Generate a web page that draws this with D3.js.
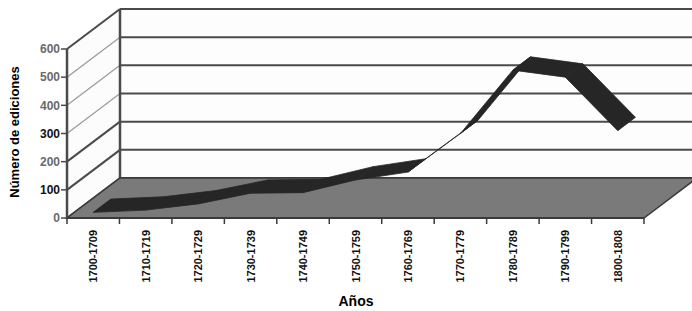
<!DOCTYPE html>
<html lang="es">
<head>
<meta charset="UTF-8">
<title>Número de ediciones por década</title>
<script src="https://d3js.org/d3.v7.min.js"></script>
<style>
  body { margin: 0; background: #fff; }
  svg { display: block; font-family: "Liberation Sans", Arial, sans-serif; }
</style>
</head>
<body>
<script>
    // Datos
    const decadas = ["1700-1709", "1710-1719", "1720-1729", "1730-1739", "1740-1749",
        "1750-1759", "1760-1769", "1770-1779", "1780-1789", "1790-1799", "1800-1808"];
    const ediciones = [20, 28, 50, 88, 90, 135, 163, 300, 525, 500, 310];
    const ticksY = [0, 100, 200, 300, 400, 500, 600];

    const width = 692, height = 311;
    // desplazamiento de profundidad (perspectiva 3D)
    const depthX = 53, depthY = -40;
    const cinta = [0, 1 / 3]; // la cinta ocupa el primer tercio de profundidad

    const svg = d3.select("body").append("svg")
        .attr("width", width)
        .attr("height", height);

    const x = d3.scaleBand().domain(decadas).range([67, 644]);
    const y = d3.scaleLinear().domain([0, 600]).range([218, 49]);

    const pt = (xv, yv, f) => [xv + depthX * f, yv + depthY * f];

    // pared izquierda
    svg.append("polygon")
        .attr("points", [pt(67, y(600), 0), pt(67, y(600), 1), pt(67, y(0), 1), pt(67, y(0), 0)].join(" "))
        .attr("fill", "#fcfcfc");

    // pared del fondo
    const x0 = 67 + depthX, x1 = 644 + depthX;
    svg.append("rect")
        .attr("x", x0).attr("y", y(600) + depthY)
        .attr("width", x1 - x0).attr("height", y(0) - y(600))
        .attr("fill", "#fdfdfd");

    // líneas de división
    ticksY.forEach(v => {
        svg.append("line")
            .attr("x1", x0).attr("x2", x1)
            .attr("y1", y(v) + depthY).attr("y2", y(v) + depthY)
            .attr("stroke", "#4a4a4a").attr("stroke-width", 2);
        const a = pt(67, y(v), 0), b = pt(67, y(v), 1);
        svg.append("line")
            .attr("x1", a[0]).attr("y1", a[1]).attr("x2", b[0]).attr("y2", b[1])
            .attr("stroke", (v >= 300 && v <= 500) ? "#9a9a9a" : "#4a4a4a")
            .attr("stroke-width", (v >= 300 && v <= 500) ? 1.2 : 2);
    });

    svg.append("line")
        .attr("x1", x0).attr("x2", x0)
        .attr("y1", y(600) + depthY).attr("y2", y(0) + depthY)
        .attr("stroke", "#4a4a4a").attr("stroke-width", 2.5);

    // suelo
    svg.append("polygon")
        .attr("points", [pt(67, y(0), 0), pt(644, y(0), 0), pt(644, y(0), 1), pt(67, y(0), 1)].join(" "))
        .attr("fill", "#7a7a7a")
        .attr("stroke", "#3a3a3a")
        .attr("stroke-width", 1.5);

    // cinta de la serie
    const g = svg.append("g");
    for (let i = 0; i < decadas.length - 1; i++) {
        const xa = x(decadas[i]) + x.bandwidth() / 2, xb = x(decadas[i + 1]) + x.bandwidth() / 2;
        const ya = y(ediciones[i]), yb = y(ediciones[i + 1]);
        g.append("polygon")
            .attr("points", [pt(xa, ya, cinta[0]), pt(xb, yb, cinta[0]), pt(xb, yb, cinta[1]), pt(xa, ya, cinta[1])].join(" "))
            .attr("fill", "#262626")
            .attr("stroke", "#262626")
            .attr("stroke-width", 0.8)
            .attr("stroke-linejoin", "round");
    }

    // eje Y
    svg.append("line")
        .attr("x1", 67).attr("x2", 67)
        .attr("y1", y(600)).attr("y2", y(0) + 1)
        .attr("stroke", "#4a4a4a").attr("stroke-width", 2.5);

    const ejeY = svg.append("g");
    ticksY.forEach(v => {
        ejeY.append("line")
            .attr("x1", 61).attr("x2", 67)
            .attr("y1", y(v)).attr("y2", y(v))
            .attr("stroke", "#4a4a4a").attr("stroke-width", 1.5);
        ejeY.append("text")
            .attr("x", 60).attr("y", y(v))
            .attr("dy", "0.36em")
            .attr("text-anchor", "end")
            .style("font-size", "12px")
            .style("font-weight", "bold")
            .attr("fill", (v === 100 || v === 300) ? "#111" : "#6a6a6a")
            .text(v);
    });

    // eje X
    svg.append("line")
        .attr("x1", 67).attr("x2", 644)
        .attr("y1", y(0)).attr("y2", y(0))
        .attr("stroke", "#3a3a3a").attr("stroke-width", 2);

    const limites = decadas.map(d => x(d)).concat([644]);
    limites.forEach(v => {
        svg.append("line")
            .attr("x1", v).attr("x2", v)
            .attr("y1", y(0)).attr("y2", y(0) + 6)
            .attr("stroke", "#3a3a3a").attr("stroke-width", 1.5);
    });

    svg.selectAll(".etiqueta")
        .data(decadas)
        .enter().append("text")
        .attr("class", "etiqueta")
        .attr("transform", d => "translate(" + (x(d) + x.bandwidth() / 2 + 4) + ",230) rotate(-90)")
        .attr("text-anchor", "end")
        .style("font-size", "11px")
        .style("font-weight", "bold")
        .attr("fill", "#111")
        .text(d => d);

    // títulos
    svg.append("text")
        .attr("x", 356).attr("y", 306)
        .attr("text-anchor", "middle")
        .style("font-size", "14px")
        .style("font-weight", "bold")
        .text("Años");

    svg.append("text")
        .attr("transform", "translate(19,132) rotate(-90)")
        .attr("text-anchor", "middle")
        .style("font-size", "13px")
        .style("font-weight", "bold")
        .text("Número de ediciones");
</script>
</body>
</html>
